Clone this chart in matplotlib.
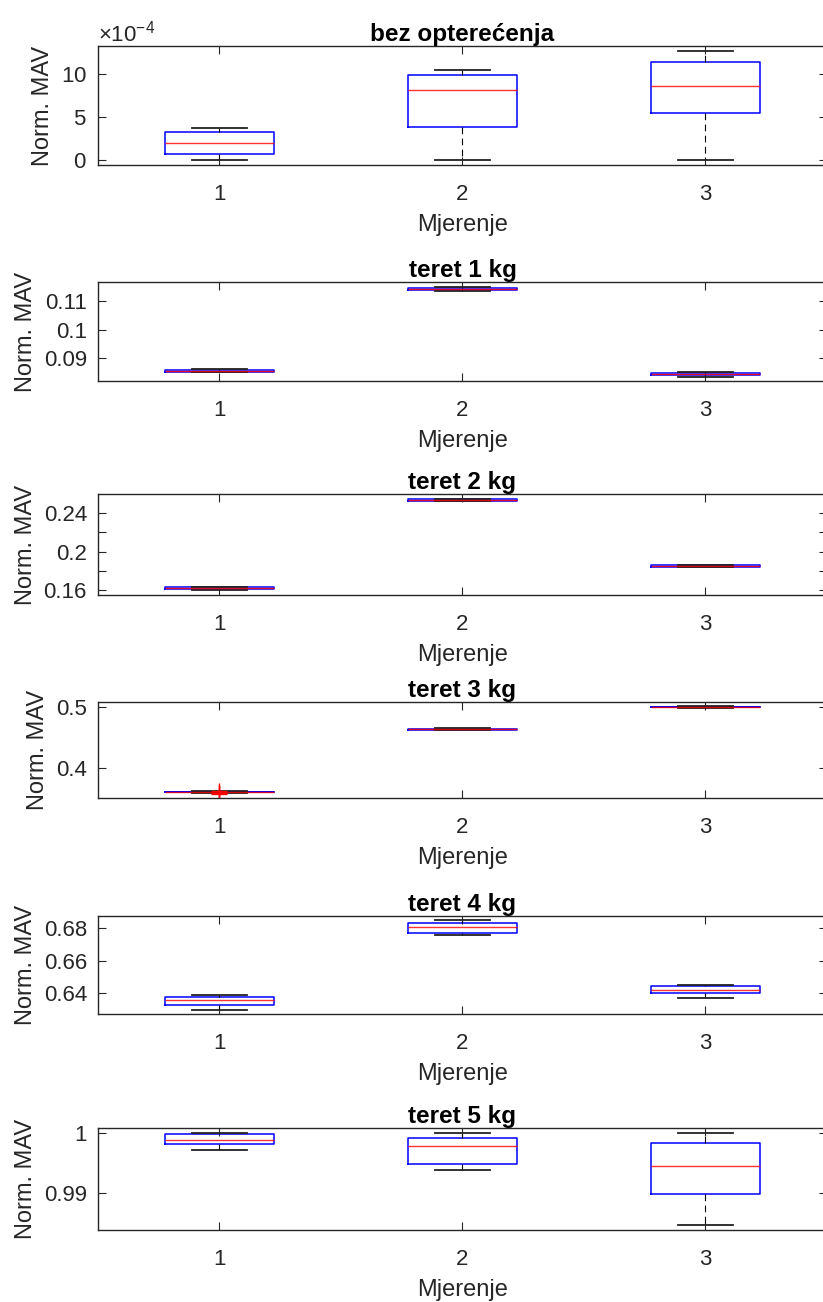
import matplotlib
matplotlib.use('Agg')
import matplotlib.pyplot as plt
from matplotlib import ticker

plt.rcParams['font.family'] = ['Liberation Sans', 'DejaVu Sans']
plt.rcParams['mathtext.fontset'] = 'custom'
plt.rcParams['mathtext.rm'] = 'Liberation Sans'

titles = ['bez opterećenja', 'teret 1 kg', 'teret 2 kg',
          'teret 3 kg', 'teret 4 kg', 'teret 5 kg']
positions = [1, 2, 3]
xtick_labels = ['1', '2', '3']
xlabel = 'Mjerenje'
ylabel = 'Norm. MAV'

# box statistics: one row per panel, one value per box
whislo = [
    [0.02e-4, 0.02e-4, 0.02e-4],
    [0.0851, 0.1134, 0.0836],
    [0.1592, 0.2530, 0.1836],
    [0.3585, 0.4625, 0.4993],
    [0.6299, 0.6759, 0.6371],
    [0.99713, 0.99377, 0.98470],
]
q1 = [
    [0.71e-4, 3.85e-4, 5.50e-4],
    [0.0853, 0.1138, 0.0842],
    [0.1610, 0.2533, 0.1840],
    [0.3591, 0.4630, 0.4998],
    [0.6326, 0.6771, 0.6401],
    [0.99809, 0.99488, 0.98983],
]
med = [
    [1.96e-4, 8.10e-4, 8.65e-4],
    [0.0856, 0.1142, 0.0845],
    [0.1617, 0.2541, 0.1846],
    [0.3595, 0.4638, 0.5004],
    [0.6357, 0.6804, 0.6422],
    [0.99882, 0.99781, 0.99450],
]
q3 = [
    [3.19e-4, 9.85e-4, 11.45e-4],
    [0.0859, 0.1146, 0.0848],
    [0.1626, 0.2550, 0.1854],
    [0.3599, 0.4646, 0.5010],
    [0.6377, 0.6831, 0.6443],
    [0.99971, 0.99916, 0.99831],
]
whishi = [
    [3.66e-4, 10.50e-4, 12.63e-4],
    [0.0861, 0.1151, 0.0850],
    [0.1630, 0.2556, 0.1858],
    [0.3604, 0.4652, 0.5015],
    [0.6391, 0.6846, 0.6451],
    [1.0, 1.0, 1.0],
]
fliers = [
    [[], [], []],
    [[], [], []],
    [[], [], []],
    [[0.3568, 0.3578, 0.3612], [], []],
    [[], [], []],
    [[], [], []],
]
yticks = [[0, 5e-4, 10e-4], [0.09, 0.1, 0.11], [0.16, 0.2, 0.24],
          [0.4, 0.5], [0.64, 0.66, 0.68], [0.99, 1.0]]
yminor = [[], [], [0.18, 0.22], [], [], []]

# axes boxes in pixels (top, bottom) of the 823x1302 figure
W, H = 823., 1302.
ax_left, ax_right = 98., 827.
panel_px = [(46, 165), (282, 381), (494, 595), (702, 798), (916, 1014), (1128, 1230)]

axis_grey = '#262626'

fig = plt.figure(figsize=(W / 100, H / 100), dpi=100)

for i in range(6):
    top, bot = panel_px[i]
    ax = fig.add_axes([ax_left / W, 1 - bot / H, (ax_right - ax_left) / W, (bot - top) / H])

    stats = []
    for j in range(3):
        stats.append({'whislo': whislo[i][j], 'q1': q1[i][j], 'med': med[i][j],
                      'q3': q3[i][j], 'whishi': whishi[i][j], 'fliers': fliers[i][j]})
    ax.bxp(stats, positions=positions, widths=0.45, showfliers=True,
           boxprops=dict(color='#0000ff', linewidth=1.1),
           medianprops=dict(color='#ff0000', linewidth=1.0, alpha=0.8),
           whiskerprops=dict(color='k', linewidth=0.8, linestyle=(0, (6, 4))),
           capprops=dict(color='#222222', linewidth=1.3),
           flierprops=dict(marker='+', markeredgecolor='#ff0000', markersize=11,
                           markeredgewidth=1.0, linestyle='none'))

    # MATLAB boxplot style limits: data range padded by 5 %
    lo = min(min(whislo[i]), min([min(f) for f in fliers[i] if f] or [min(whislo[i])]))
    hi = max(max(whishi[i]), max([max(f) for f in fliers[i] if f] or [max(whishi[i])]))
    r = hi - lo
    ax.set_ylim(lo - 0.05 * r, hi + 0.05 * r)
    ax.set_xlim(0.5, 3.5)

    ax.set_xticks(positions)
    ax.set_xticklabels(xtick_labels)
    ax.yaxis.set_major_locator(ticker.FixedLocator(yticks[i]))
    ax.yaxis.set_minor_locator(ticker.FixedLocator(yminor[i]))
    if i == 0:
        fmt = ticker.ScalarFormatter(useMathText=True)
        fmt.set_powerlimits((-4, -4))
        ax.yaxis.set_major_formatter(fmt)
        ax.yaxis.get_offset_text().set_fontsize(16)
        ax.yaxis.get_offset_text().set_color(axis_grey)
    else:
        ax.yaxis.set_major_formatter(ticker.FuncFormatter(lambda v, p: '%g' % v))

    ax.tick_params(axis='both', which='both', direction='in', top=True, right=True,
                   length=5.5, width=0.8, color=axis_grey, labelcolor=axis_grey,
                   labelsize=16)
    ax.tick_params(axis='x', pad=14)
    ax.tick_params(axis='y', pad=8)
    for s in ax.spines.values():
        s.set_color(axis_grey)
        s.set_linewidth(1.0)

    ax.set_title(titles[i], fontsize=17.5, fontweight='bold', pad=2)
    ax.set_xlabel(xlabel, fontsize=17, color=axis_grey, labelpad=6)
    ax.set_ylabel(ylabel, fontsize=17, color=axis_grey, labelpad=5)

fig.savefig('out.png', dpi=100)
plt.close()
